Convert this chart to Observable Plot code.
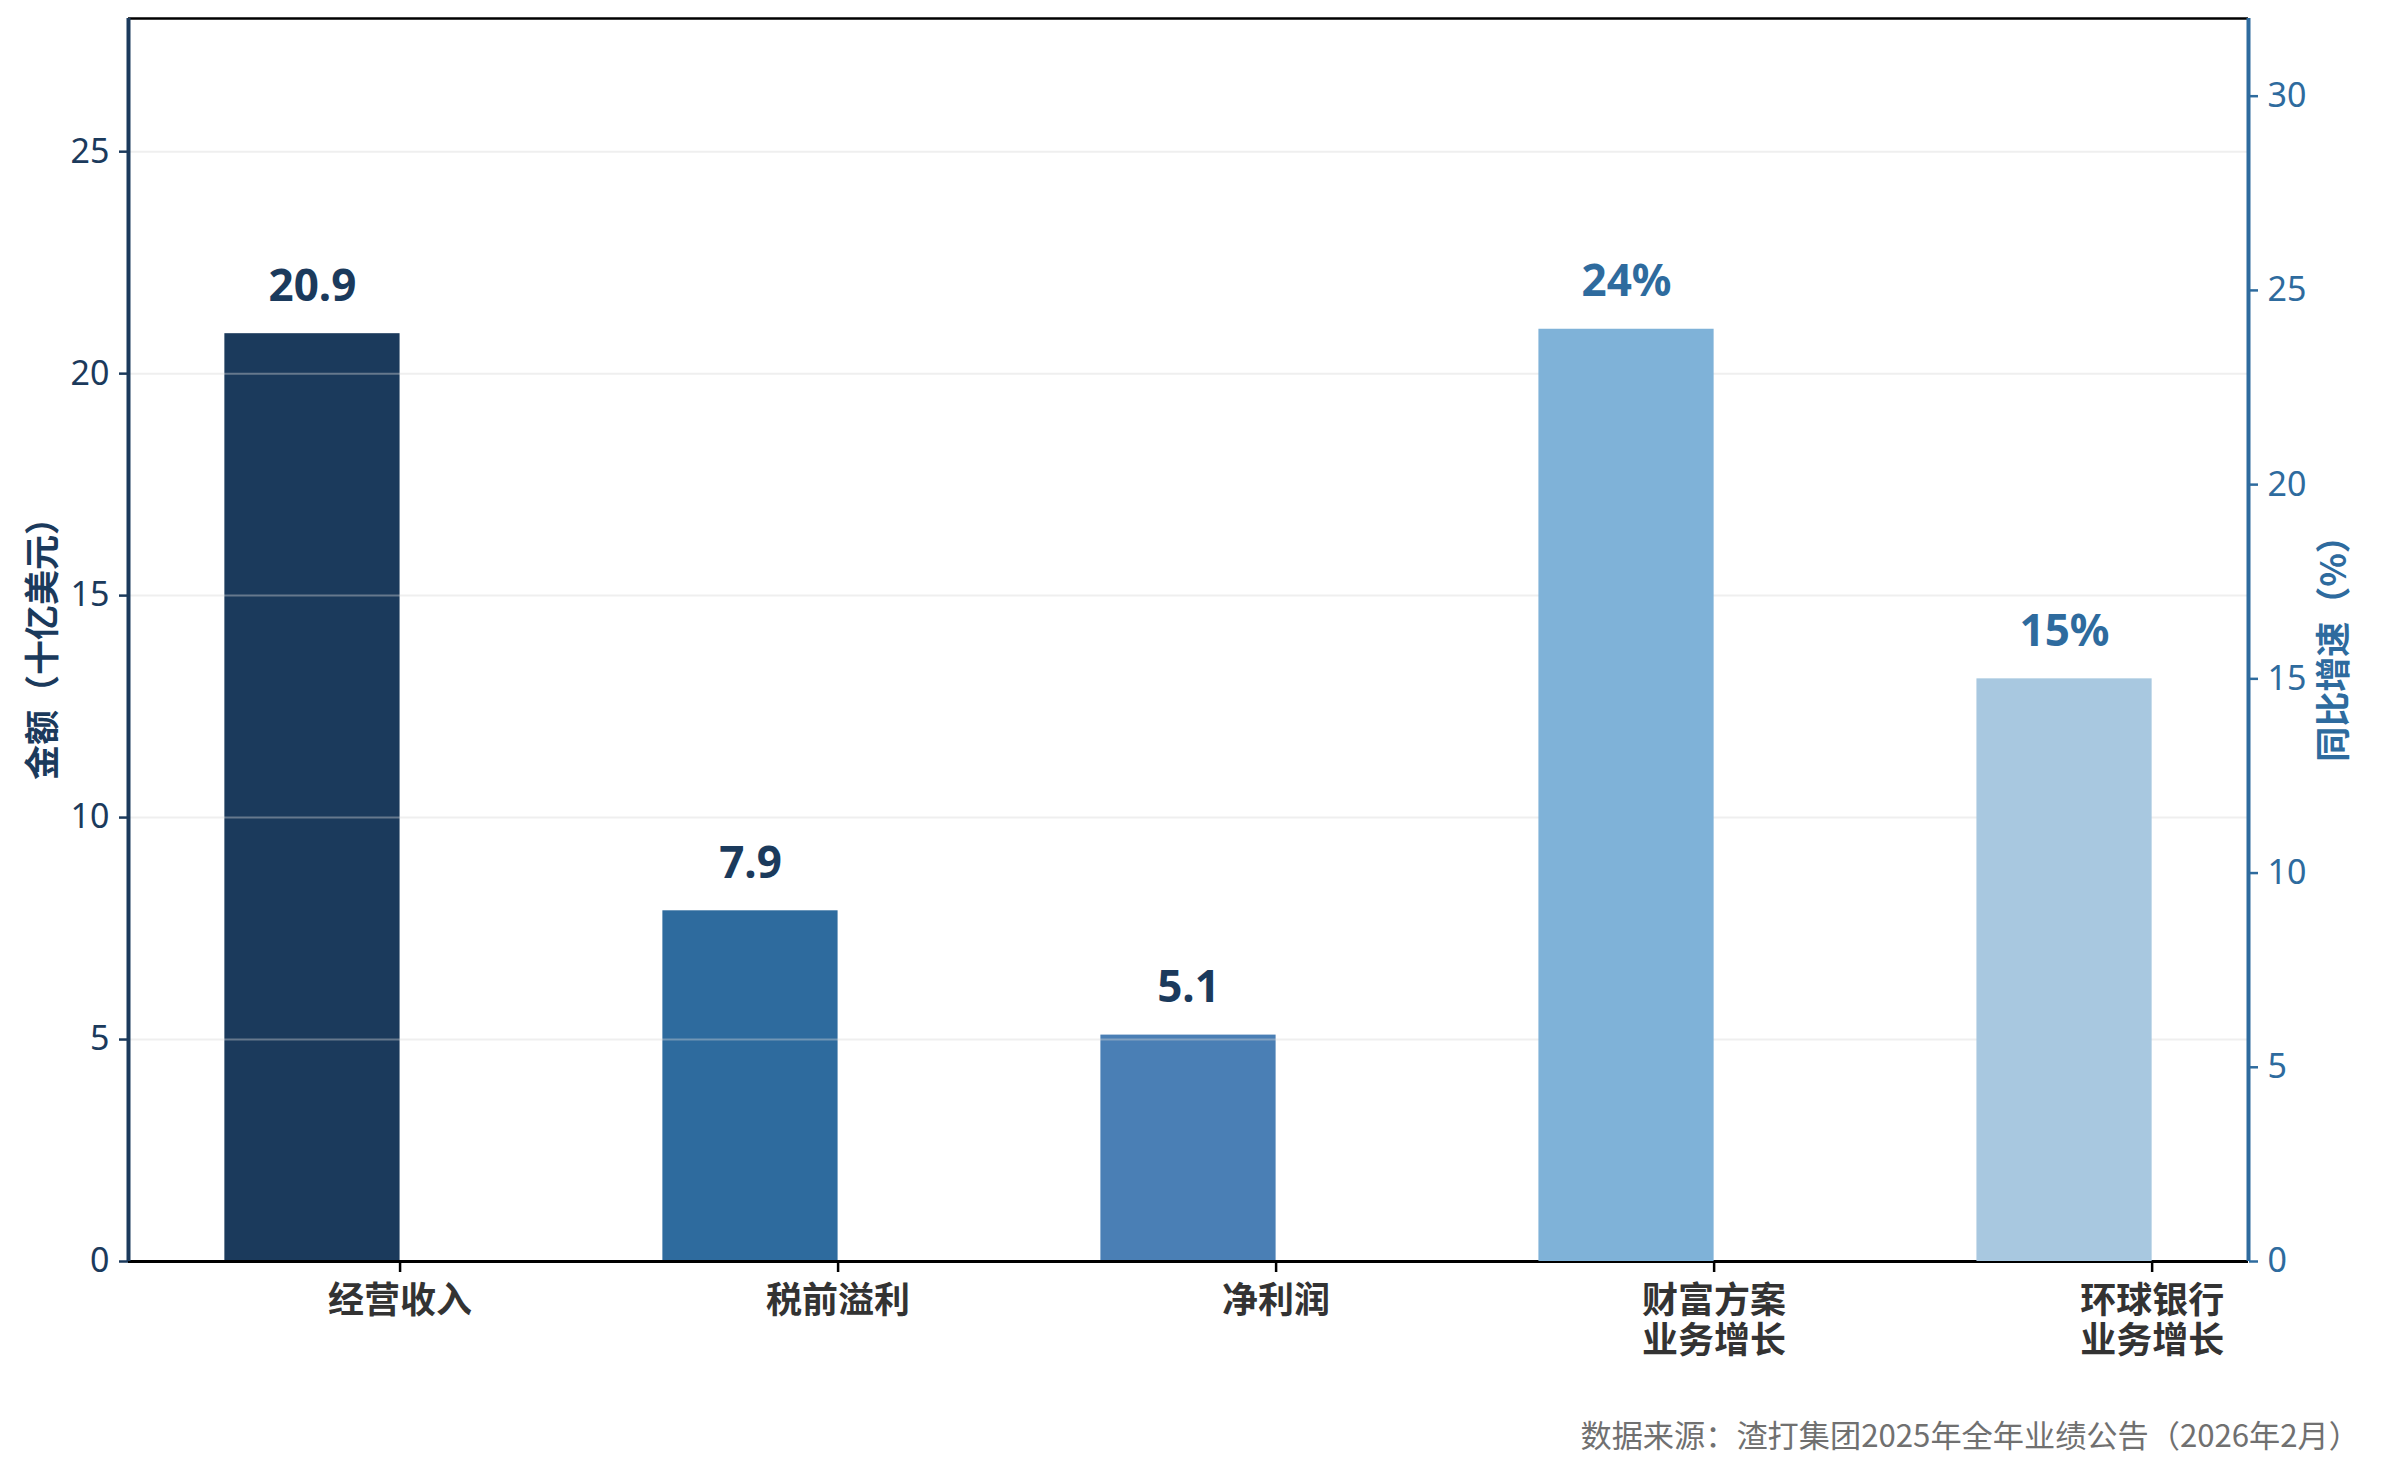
<!DOCTYPE html>
<html>
<head>
<meta charset="utf-8">
<script src="https://cdn.jsdelivr.net/npm/d3@7"></script>
<script src="https://cdn.jsdelivr.net/npm/@observablehq/plot@0.6"></script>
<style>
  html, body { margin: 0; padding: 0; background: #fff; overflow: hidden; }
  #wrap { position: relative; width: 2383px; height: 1473px; }
  #wrap svg { position: absolute; left: 0; top: 0; }
  #caption { position: absolute; right: 23px; top: 1413px; font-family: "Noto Sans CJK SC", "Noto Sans", sans-serif; font-size: 31.2px; line-height: 42px; color: #707070; white-space: nowrap; }
</style>
</head>
<body>
<div id="wrap"><div id="caption">数据来源：渣打集团2025年全年业绩公告（2026年2月）</div></div>
<script>
// ---- data ----
const categories = ["经营收入", "税前溢利", "净利润", "财富方案\n业务增长", "环球银行\n业务增长"];
const amountValues = [20.9, 7.9, 5.1];          // 十亿美元 (left axis)
const amountLabels = ["20.9", "7.9", "5.1"];
const growthValues = [24, 15];                  // % (right axis)
const growthLabels = ["24%", "15%"];
const amountColors = ["#1B3A5C", "#2E6B9E", "#4A7FB5"];
const growthColors = ["#7FB2D8", "#A8C8E0"];
const leftTicks = [0, 5, 10, 15, 20, 25];
const rightTicks = [0, 5, 10, 15, 20, 25, 30];
const gridTicks = [5, 10, 15, 20, 25];

const amountData = amountValues.map((v, i) => ({i, v, label: amountLabels[i], color: amountColors[i]}));
const growthData = growthValues.map((v, k) => ({i: k + 3, v, label: growthLabels[k], color: growthColors[k]}));

const W = 2383, H = 1400;
const margins = {marginLeft: 128, marginRight: 135, marginTop: 18, marginBottom: H - 1261};
const xDomain = [-0.62, 4.22];
const barW = 0.4;
const font = "'Noto Sans', 'Noto Sans CJK SC', sans-serif";
const cjk = "'Noto Sans CJK SC', sans-serif";
const navy = "#1B3A5C", blue = "#2E6B9E";

const p1 = Plot.plot({
  width: W, height: H, ...margins,
  style: {fontFamily: font, background: "transparent"},
  x: {type: "linear", domain: xDomain},
  y: {domain: [0, 28]},
  marks: [
    Plot.rectY(amountData, {x1: d => d.i - barW, x2: d => d.i, y1: 0, y2: "v", fill: "color"}),
    Plot.ruleY(gridTicks, {stroke: "#d8d8d8", strokeOpacity: 0.4, strokeWidth: 2}),
    Plot.text(amountData, {x: d => d.i - barW / 2, y: "v", text: "label", fill: navy, fontWeight: "bold", fontSize: 44, lineAnchor: "bottom", dy: -33}),
    Plot.ruleY([28], {stroke: "#000", strokeWidth: 2.5}),
    Plot.ruleY([0], {stroke: "#000", strokeWidth: 3}),
    Plot.ruleX([xDomain[0]], {stroke: navy, strokeWidth: 4}),
    Plot.axisY({ticks: leftTicks, tickSize: 9, tickPadding: 10, color: navy, fontSize: 34, strokeWidth: 2.5, label: null}),
    Plot.axisX({ticks: [0, 1, 2, 3, 4], tickFormat: i => categories[i], tickSize: 11, tickPadding: 12, stroke: "#000", strokeWidth: 2.5, fill: "#333", fontWeight: "bold", fontSize: 36, lineHeight: 1.12, fontFamily: cjk, label: null}),
    Plot.text(["金额（十亿美元）"], {frameAnchor: "left", textAnchor: "middle", dx: -85, rotate: -90, fill: navy, fontWeight: "bold", fontSize: 35, fontFamily: cjk})
  ]
});

const p2 = Plot.plot({
  width: W, height: H, ...margins,
  style: {fontFamily: font, background: "transparent"},
  x: {type: "linear", domain: xDomain, axis: null},
  y: {domain: [0, 32]},
  marks: [
    Plot.rectY(growthData, {x1: d => d.i - barW, x2: d => d.i, y1: 0, y2: "v", fill: "color"}),
    Plot.text(growthData, {x: d => d.i - barW / 2, y: "v", text: "label", fill: blue, fontWeight: "bold", fontSize: 44, lineAnchor: "bottom", dy: -33}),
    Plot.ruleX([xDomain[1]], {stroke: blue, strokeWidth: 4}),
    Plot.axisY({anchor: "right", ticks: rightTicks, tickSize: 9, tickPadding: 10, color: blue, fontSize: 34, strokeWidth: 2.5, label: null}),
    Plot.text(["同比增速（%）"], {frameAnchor: "right", textAnchor: "middle", dx: 86, rotate: -90, fill: blue, fontWeight: "bold", fontSize: 35, fontFamily: cjk})
  ]
});

const wrap = document.getElementById("wrap");
wrap.prepend(p2);
wrap.prepend(p1);
</script>
</body>
</html>
